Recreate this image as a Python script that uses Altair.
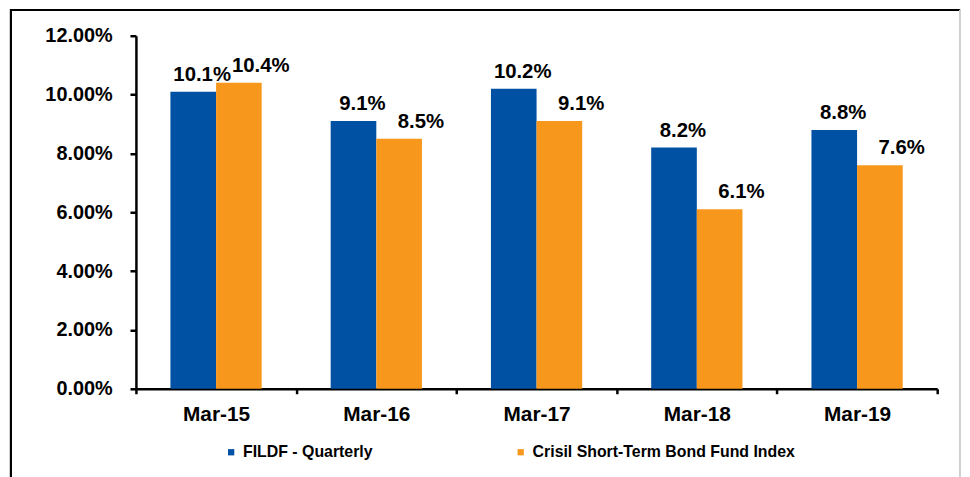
import altair as alt
import pandas as pd

categories = ["Mar-15", "Mar-16", "Mar-17", "Mar-18", "Mar-19"]
series_names = ["FILDF - Quarterly", "Crisil Short-Term Bond Fund Index"]
fildf = [10.1, 9.1, 10.2, 8.2, 8.8]
crisil = [10.4, 8.5, 9.1, 6.1, 7.6]
y_ticks = [0, 2, 4, 6, 8, 10, 12]
colors = ["#0050A4", "#F7981D"]

rows = []
for c, a, b in zip(categories, fildf, crisil):
    rows.append({"cat": c, "series": series_names[0], "value": a})
    rows.append({"cat": c, "series": series_names[1], "value": b})
df = pd.DataFrame(rows)

FONT = "Liberation Sans"

x_enc = alt.X(
    "cat:N",
    sort=categories,
    title=None,
    scale=alt.Scale(paddingInner=0, paddingOuter=0),
    axis=alt.Axis(
        labelAngle=0,
        labelFont=FONT,
        labelFontSize=21,
        labelFontWeight="bold",
        labelColor="black",
        labelPadding=10,
        domainColor="black",
        domainWidth=2.5,
        tickColor="black",
        tickWidth=2.5,
        tickSize=5,
        tickBand="extent",
        grid=False,
    ),
)
xoff = alt.XOffset(
    "series:N",
    sort=series_names,
    scale=alt.Scale(paddingInner=0, paddingOuter=0.756),
)
y_enc = alt.Y(
    "value:Q",
    title=None,
    scale=alt.Scale(domain=[0, 12], nice=False),
    axis=alt.Axis(
        values=y_ticks,
        labelExpr="format(datum.value, '.2f') + '%'",
        labelFont=FONT,
        labelFontSize=20,
        labelFontWeight="bold",
        labelColor="black",
        labelPadding=18,
        domainColor="black",
        domainWidth=2.5,
        tickColor="black",
        tickWidth=2.5,
        tickSize=6,
        grid=False,
    ),
)

bars = alt.Chart(df).mark_bar().encode(
    x=x_enc,
    xOffset=xoff,
    y=y_enc,
    color=alt.Color(
        "series:N",
        sort=series_names,
        scale=alt.Scale(domain=series_names, range=colors),
        legend=alt.Legend(
            title=None,
            orient="none",
            legendX=88,
            legendY=412,
            direction="horizontal",
            symbolType="square",
            symbolSize=40,
            symbolStrokeWidth=0,
            labelFont=FONT,
            labelFontSize=16,
            labelFontWeight="bold",
            labelColor="black",
            labelOffset=4,
            labelLimit=0,
            columnPadding=141,
            padding=0,
        ),
    ),
)

def label_layer(name, dx):
    return (
        alt.Chart(df)
        .transform_filter(alt.datum.series == name)
        .transform_calculate(label="format(datum.value, '.1f') + '%'")
        .mark_text(
            font=FONT,
            fontSize=20.5,
            fontWeight="bold",
            color="black",
            baseline="bottom",
            dy=-7,
            dx=dx,
        )
        .encode(
            x=alt.X("cat:N", sort=categories),
            xOffset=alt.XOffset("series:N", sort=series_names),
            y=alt.Y("value:Q"),
            text="label:N",
        )
    )

border = alt.Chart(df).mark_rule(color="black", strokeWidth=2).encode(
    x=alt.value(-126), y=alt.value(-27), y2=alt.value(445)
)
border_top = alt.Chart(df).mark_rule(color="black", strokeWidth=2).encode(
    x=alt.value(-126), x2=alt.value(831), y=alt.value(-26)
)
border_right = alt.Chart(df).mark_rule(color="#D0D0D0", strokeWidth=1).encode(
    x=alt.value(831), y=alt.value(-26), y2=alt.value(445)
)

chart = (
    alt.layer(
        bars,
        label_layer(series_names[0], 9),
        label_layer(series_names[1], 22),
        border,
        border_top,
        border_right,
    )
    .properties(
        width=808,
        height=356,
        autosize="none",
        padding={"left": 129, "top": 26, "right": 25, "bottom": 90},
    )
    .configure_view(stroke=None)
)

chart.save("out.html", embed_options={"renderer": "svg", "actions": False})
